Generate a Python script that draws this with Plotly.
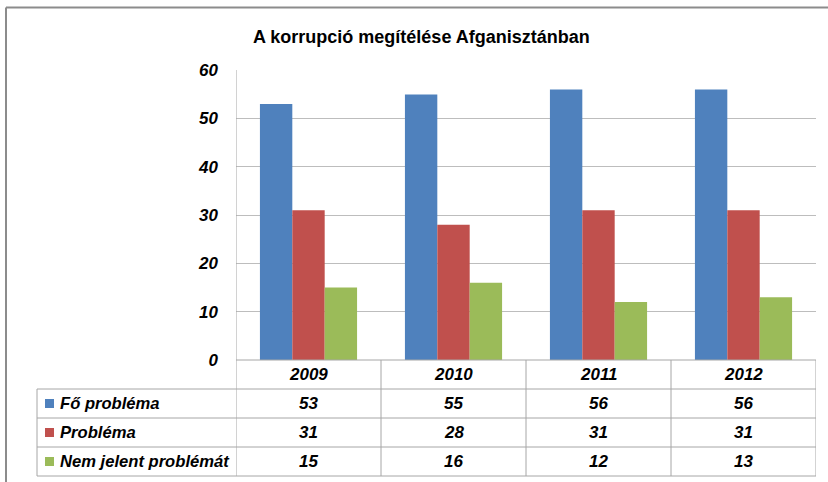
import plotly.graph_objects as go

years = ["2009", "2010", "2011", "2012"]
series_names = ["Fő probléma", "Probléma", "Nem jelent problémát"]
fo_problema = [53, 55, 56, 56]
problema = [31, 28, 31, 31]
nem_jelent = [15, 16, 12, 13]
colors = ["#4f81bd", "#c0504d", "#9bbb59"]
y_ticks = [0, 10, 20, 30, 40, 50, 60]
title_text = "A korrupció megítélése Afganisztánban"

series_values = [fo_problema, problema, nem_jelent]
xpos = list(range(len(years)))

W, H = 828, 482
L, R, T, B = 236, 816, 70, 360   # plot area in pixels

def py(p):  # pixel y -> paper y
    return (B - p) / (B - T)

def px(p):  # pixel x -> paper x
    return (p - L) / (R - L)

FONT = "Liberation Sans"
fig = go.Figure()
for name, vals, c in zip(series_names, series_values, colors):
    fig.add_trace(go.Bar(x=xpos, y=vals, name=name, marker=dict(color=c, line=dict(width=0))))

shapes = []
grid_col = "#bdbdbd"
tab_col = "#a6a6a6"
row_y = [360, 389, 418, 447, 476]
# horizontal table lines
shapes.append(dict(type="line", xref="x", yref="paper", x0=-0.5, x1=len(years) - 0.5, y0=py(row_y[0]), y1=py(row_y[0]),
                   line=dict(color=tab_col, width=1)))
for ry in row_y[1:]:
    shapes.append(dict(type="line", xref="paper", yref="paper", x0=px(37), x1=1, y0=py(ry), y1=py(ry),
                       line=dict(color=tab_col, width=1)))
# vertical table lines
for k in range(len(years) + 1):
    xv = -0.5 + k
    y_top = py(T) if k == 0 else py(row_y[0])
    shapes.append(dict(type="line", xref="x", yref="paper", x0=xv, x1=xv, y0=y_top, y1=py(row_y[-1]),
                       line=dict(color=tab_col, width=1)))
shapes.append(dict(type="line", xref="paper", yref="paper", x0=px(37), x1=px(37), y0=py(row_y[1]), y1=py(row_y[-1]),
                   line=dict(color=tab_col, width=1)))
# outer chart border (top and left)
shapes.append(dict(type="line", xref="paper", yref="paper", x0=px(6), x1=px(840), y0=py(7.5), y1=py(7.5),
                   line=dict(color="#8c8c8c", width=2)))
shapes.append(dict(type="line", xref="paper", yref="paper", x0=px(6), x1=px(6), y0=py(7.5), y1=py(490),
                   line=dict(color="#8c8c8c", width=2)))

annotations = []
tfont = dict(family=FONT, size=17, color="black")
lfont = dict(family=FONT, size=16.6, color="black")
# header row
for xi, yr in zip(xpos, years):
    annotations.append(dict(x=xi, y=py((row_y[0] + row_y[1]) / 2), xref="x", yref="paper", text=f"<b><i>{yr}</i></b>",
                            showarrow=False, font=tfont, xanchor="center", yanchor="middle"))
for r, (name, vals, c) in enumerate(zip(series_names, series_values, colors)):
    yc = (row_y[r + 1] + row_y[r + 2]) / 2
    shapes.append(dict(type="rect", xref="paper", yref="paper", x0=px(45), x1=px(54), y0=py(yc - 4.5), y1=py(yc + 4.5),
                       fillcolor=c, line=dict(width=0)))
    annotations.append(dict(x=px(58), y=py(yc), xref="paper", yref="paper", text=f"<b><i>{name}</i></b>",
                            showarrow=False, font=lfont, xanchor="left", yanchor="middle"))
    for xi, v in zip(xpos, vals):
        annotations.append(dict(x=xi, y=py(yc), xref="x", yref="paper", text=f"<b><i>{v}</i></b>",
                                showarrow=False, font=tfont, xanchor="center", yanchor="middle"))
annotations.append(dict(x=px(421), y=py(37), xref="paper", yref="paper", text=f"<b>{title_text}</b>",
                        showarrow=False, font=dict(family=FONT, size=18, color="black"),
                        xanchor="center", yanchor="middle"))

fig.update_layout(
    width=W, height=H, autosize=False,
    margin=dict(l=L, r=W - R, t=T, b=H - B, pad=0),
    paper_bgcolor="white", plot_bgcolor="white",
    barmode="group", bargap=0.33, bargroupgap=0,
    showlegend=False,
    shapes=shapes, annotations=annotations,
    xaxis=dict(range=[-0.5, len(years) - 0.5], showticklabels=False, showgrid=False, zeroline=False,
               showline=False, ticks=""),
    yaxis=dict(range=[0, 60.05], tickvals=y_ticks, ticktext=[f"<b><i>{t}</i></b>" for t in y_ticks],
               showgrid=True, gridcolor=grid_col, gridwidth=1, zeroline=False, showline=False,
               ticks="", ticklabelstandoff=17,
               tickfont=dict(family=FONT, size=17, color="black")),
)
fig.write_html("out.html", config={"displayModeBar": False},
               post_script="document.body.style.margin='0';document.body.style.overflow='hidden';")
